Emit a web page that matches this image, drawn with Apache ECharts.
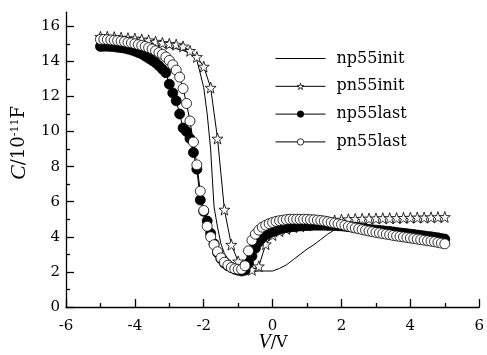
<!DOCTYPE html>
<html><head><meta charset="utf-8">
<script src="https://cdn.jsdelivr.net/npm/echarts@6/dist/echarts.min.js"></script>
<style>html,body{margin:0;padding:0;background:#fff}#c{width:487px;height:355px}</style>
</head><body><div id="c"></div>
<script>
const seriesNames = ['np55init', 'pn55init', 'np55last', 'pn55last'];
const xTicks = [-6, -4, -2, 0, 2, 4, 6];
const yTicks = [0, 2, 4, 6, 8, 10, 12, 14, 16];
const yMinorTicks = [1, 3, 5, 7, 9, 11, 13, 15];

// np55init: solid line only
const np55initV = [-5.0,-4.5,-4.0,-3.5,-3.2,-3.0,-2.8,-2.6,-2.4,-2.3,-2.2,-2.1,-2.0,-1.9,-1.8,-1.75,-1.7,-1.6,-1.5,-1.4,-1.3,-1.2,-1.1,-1.0,-0.9,-0.8,-0.5,-0.2,0.0,0.2,0.4,0.6,0.8,1.0,1.2,1.4,1.6,1.8,2.0,2.2,2.5,3.0,3.5,4.0,4.5,5.0];
const np55initC = [15.30,15.25,15.15,15.00,14.88,14.80,14.72,14.62,14.45,14.32,14.05,13.30,12.50,11.00,9.00,7.30,5.70,4.55,3.60,3.05,2.75,2.60,2.40,2.20,2.10,2.05,2.05,2.05,2.05,2.20,2.40,2.70,3.00,3.30,3.55,3.85,4.15,4.40,4.58,4.65,4.52,4.38,4.28,4.15,4.02,3.87];

// pn55init: stars, 0.2 V steps
const vCoarse = [-5.0,-4.8,-4.6,-4.4,-4.2,-4.0,-3.8,-3.6,-3.4,-3.2,-3.0,-2.8,-2.6,-2.4,-2.2,-2.0,-1.8,-1.6,-1.4,-1.2,-1.0,-0.8,-0.6,-0.4,-0.2,0.0,0.2,0.4,0.6,0.8,1.0,1.2,1.4,1.6,1.8,2.0,2.2,2.4,2.6,2.8,3.0,3.2,3.4,3.6,3.8,4.0,4.2,4.4,4.6,4.8,5.0];
const pn55initC = [15.40,15.40,15.38,15.35,15.32,15.30,15.25,15.20,15.12,15.05,15.00,14.95,14.85,14.60,14.25,13.70,12.50,9.60,5.55,3.55,2.60,2.20,2.12,2.32,3.58,4.10,4.32,4.45,4.55,4.60,4.65,4.70,4.76,4.85,4.93,4.98,5.00,5.02,5.03,5.04,5.05,5.06,5.06,5.07,5.08,5.09,5.10,5.10,5.11,5.12,5.13];

// np55last / pn55last: circles, 0.1 V steps
const vFine = [-5.0,-4.9,-4.8,-4.7,-4.6,-4.5,-4.4,-4.3,-4.2,-4.1,-4.0,-3.9,-3.8,-3.7,-3.6,-3.5,-3.4,-3.3,-3.2,-3.1,-3.0,-2.9,-2.8,-2.7,-2.6,-2.5,-2.4,-2.3,-2.2,-2.1,-2.0,-1.9,-1.8,-1.7,-1.6,-1.5,-1.4,-1.3,-1.2,-1.1,-1.0,-0.9,-0.8,-0.7,-0.6,-0.5,-0.4,-0.3,-0.2,-0.1,0.0,0.1,0.2,0.3,0.4,0.5,0.6,0.7,0.8,0.9,1.0,1.1,1.2,1.3,1.4,1.5,1.6,1.7,1.8,1.9,2.0,2.1,2.2,2.3,2.4,2.5,2.6,2.7,2.8,2.9,3.0,3.1,3.2,3.3,3.4,3.5,3.6,3.7,3.8,3.9,4.0,4.1,4.2,4.3,4.4,4.5,4.6,4.7,4.8,4.9,5.0];
const np55lastC = [14.85,14.86,14.86,14.85,14.83,14.80,14.78,14.75,14.70,14.65,14.58,14.50,14.42,14.30,14.18,14.05,13.92,13.75,13.55,13.35,12.70,12.20,11.75,11.00,10.20,10.00,9.60,8.80,7.85,6.10,5.45,4.90,4.20,3.60,3.10,2.75,2.50,2.35,2.25,2.15,2.10,2.05,2.10,2.50,2.90,3.35,3.70,3.95,4.10,4.20,4.30,4.38,4.44,4.50,4.53,4.56,4.58,4.60,4.62,4.63,4.64,4.65,4.66,4.66,4.66,4.66,4.65,4.65,4.64,4.63,4.62,4.60,4.58,4.56,4.54,4.51,4.48,4.45,4.42,4.40,4.38,4.36,4.34,4.32,4.30,4.28,4.25,4.22,4.20,4.18,4.15,4.13,4.10,4.08,4.05,4.02,4.00,3.97,3.94,3.90,3.87];
const pn55lastC = [15.25,15.25,15.24,15.22,15.20,15.18,15.15,15.12,15.08,15.05,15.00,14.95,14.90,14.85,14.78,14.70,14.60,14.50,14.40,14.25,14.05,13.80,13.50,13.10,12.45,11.60,10.60,9.40,8.10,6.60,5.50,4.60,4.00,3.55,3.15,2.80,2.55,2.38,2.25,2.18,2.15,2.15,2.35,3.20,3.80,4.15,4.38,4.55,4.66,4.75,4.82,4.88,4.92,4.95,4.98,5.00,5.00,5.00,5.00,5.00,5.00,4.98,4.97,4.95,4.93,4.90,4.86,4.82,4.78,4.74,4.70,4.65,4.60,4.55,4.50,4.46,4.41,4.37,4.33,4.29,4.25,4.22,4.18,4.15,4.12,4.08,4.05,4.02,3.99,3.96,3.93,3.90,3.87,3.84,3.81,3.78,3.75,3.72,3.68,3.64,3.60];

const zip = (xs, ys) => xs.map((x, i) => [x, ys[i]]);
const FONT = 'DejaVu Serif';
const IFONT = 'Liberation Serif';
const star = 'path://M50,2 L61.8,36 L97.6,36.5 L69,58 L79.4,92.5 L50,72 L20.6,92.5 L31,58 L2.4,36.5 L38.2,36 Z';

const chart = echarts.init(document.getElementById('c'), null, {renderer: 'canvas'});
chart.setOption({
  animation: false,
  backgroundColor: '#fff',
  grid: {left: 66, right: 6, top: 12.2, bottom: 48, containLabel: false},
  xAxis: {
    type: 'value', min: xTicks[0], max: xTicks[xTicks.length - 1], interval: 2,
    axisLine: {lineStyle: {color: '#000', width: 1.3}},
    axisTick: {inside: true, length: 8, lineStyle: {color: '#000', width: 1.3}},
    minorTick: {show: true, splitNumber: 2, length: 4, lineStyle: {color: '#000', width: 1.3}},
    axisLabel: {color: '#000', fontFamily: FONT, fontSize: 15, margin: 12},
    splitLine: {show: false}
  },
  yAxis: [{
    type: 'value', min: 0, max: 16.8,
    axisLine: {show: true, onZero: false, lineStyle: {color: '#000', width: 1.3}},
    axisTick: {show: true, inside: true, length: 8, customValues: yTicks, lineStyle: {color: '#000', width: 1.3}},
    axisLabel: {color: '#000', fontFamily: FONT, fontSize: 15, margin: 6, customValues: yTicks},
    splitLine: {show: false}
  }, {
    type: 'value', min: 0, max: 16.8, position: 'left',
    axisLine: {show: false, onZero: false},
    axisTick: {show: true, inside: true, length: 4, customValues: yMinorTicks, lineStyle: {color: '#000', width: 1.3}},
    axisLabel: {show: false},
    splitLine: {show: false}
  }],
  legend: {
    orient: 'vertical', left: 275, top: 48, padding: 0, itemWidth: 50, itemHeight: 8, itemGap: 6.8,
    data: [
      {name: seriesNames[0], itemStyle: {color: 'rgba(0,0,0,0)', borderColor: 'rgba(0,0,0,0)', borderWidth: 0}},
      {name: seriesNames[1], itemStyle: {color: '#fff', borderColor: '#000', borderWidth: 0.8}},
      {name: seriesNames[2], itemStyle: {color: '#000', borderColor: '#000', borderWidth: 0.8}},
      {name: seriesNames[3], itemStyle: {color: '#fff', borderColor: '#000', borderWidth: 0.8}}
    ],
    lineStyle: {width: 1},
    textStyle: {color: '#000', fontFamily: FONT, fontSize: 16, lineHeight: 21, padding: [0, 0, 0, 6]}
  },
  graphic: [
    {type: 'text', x: 19, y: 143, rotation: Math.PI / 2,
      style: {text: '{i|C}{n|/10}{s|-11}{n|F}', fill: '#000', align: 'center', verticalAlign: 'middle',
        rich: {i: {fontStyle: 'italic', fontFamily: IFONT, fontSize: 22},
               n: {fontFamily: FONT, fontSize: 18},
               s: {fontSize: 11, fontFamily: FONT, padding: [0, 0, 8, 0]}}}},
    {type: 'text', x: 273, y: 343,
      style: {text: '{i|V}{n|/V}', fill: '#000', align: 'center', verticalAlign: 'middle',
        rich: {i: {fontStyle: 'italic', fontFamily: IFONT, fontSize: 20}, n: {fontFamily: FONT, fontSize: 16}}}}
  ],
  series: [
    {name: seriesNames[0], type: 'line', data: zip(np55initV, np55initC), symbol: 'none',
      lineStyle: {color: '#000', width: 1}, itemStyle: {color: '#000'}},
    {name: seriesNames[1], type: 'line', data: zip(vCoarse, pn55initC), symbol: star, symbolSize: 11,
      lineStyle: {color: '#000', width: 1}, itemStyle: {color: '#fff', borderColor: '#000', borderWidth: 0.8}},
    {name: seriesNames[2], type: 'line', data: zip(vFine, np55lastC), symbol: 'circle', symbolSize: 10,
      lineStyle: {color: '#000', width: 1}, itemStyle: {color: '#000', borderColor: '#000', borderWidth: 0.8}},
    {name: seriesNames[3], type: 'line', data: zip(vFine, pn55lastC), symbol: 'circle', symbolSize: 10,
      lineStyle: {color: '#000', width: 1}, itemStyle: {color: '#fff', borderColor: '#000', borderWidth: 0.8}}
  ]
});
</script></body></html>
